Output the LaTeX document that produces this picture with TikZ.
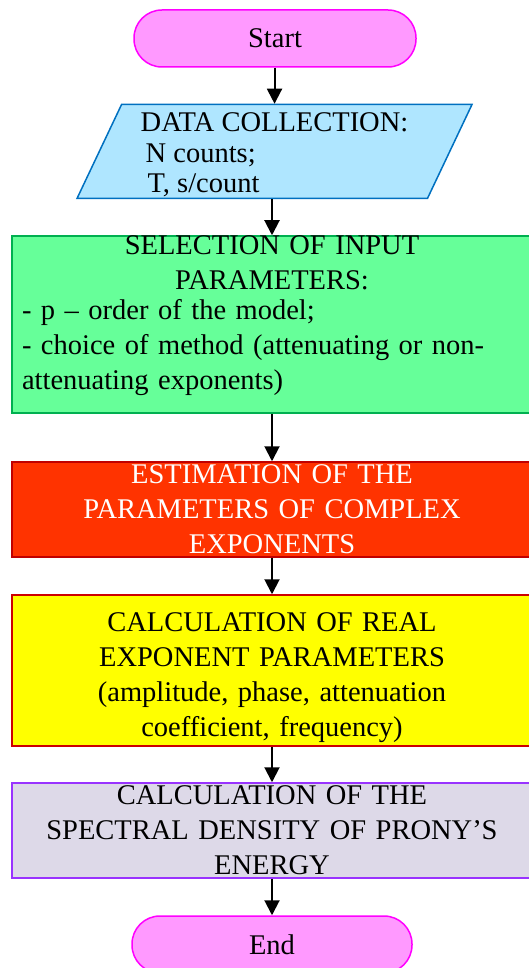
\documentclass[tikz,border=0pt]{standalone}
\usepackage{fontspec}
\setmainfont{Liberation Serif}
\usetikzlibrary{arrows.meta,shapes.geometric}
\definecolor{rosa}{RGB}{255,153,255}
\definecolor{rosaBorde}{RGB}{255,0,255}
\definecolor{celeste}{RGB}{175,230,255}
\definecolor{celesteBorde}{RGB}{0,112,192}
\definecolor{verde}{RGB}{102,255,153}
\definecolor{verdeBorde}{RGB}{0,176,80}
\definecolor{rojo}{RGB}{255,51,0}
\definecolor{rojoBorde}{RGB}{192,0,0}
\definecolor{amarillo}{RGB}{255,255,0}
\definecolor{lila}{RGB}{221,217,232}
\definecolor{lilaBorde}{RGB}{153,51,255}
\tikzset{
  caja/.style={rectangle,line width=1.5pt,minimum width=520pt,inner sep=0pt,text width=500pt,align=center},
  terminal/.style={rectangle,rounded corners=28pt,fill=rosa,draw=rosaBorde,line width=1.5pt,minimum width=282pt,minimum height=57pt},
  entrada/.style={trapezium,trapezium left angle=64,trapezium right angle=116,trapezium stretches body,fill=celeste,draw=celesteBorde,line width=1.5pt,minimum width=395pt,minimum height=94pt,inner sep=0pt,align=left},
  flecha/.style={line width=2pt,-{Triangle[width=15pt,length=15pt]}}
}

\begin{document}
\begin{tikzpicture}[x=1pt,y=-1pt,font=\fontsize{28.5}{35}\selectfont]
  \useasboundingbox (0,0) rectangle (528,968);
  % bloques del diagrama
  \node[terminal] (inicio) at (275,38.5) {Start};
  \node[entrada,font=\fontsize{28.5}{30.5}\selectfont] (datos) at (274.5,151.5)
    {\rule{0pt}{26pt}DATA COLLECTION:\\\hspace*{5pt}N counts;\\\hspace*{7pt}T, s/count};
  \node[caja,fill=verde,draw=verdeBorde,minimum height=177pt,align=left] (seleccion) at (272,324.5)
    {\makebox[500pt]{SELECTION OF INPUT}\\\makebox[500pt]{PARAMETERS:}\\[-5pt]
     - p – order of the model;\\- choice of method (attenuating or non-\\attenuating exponents)\rule[-23pt]{0pt}{23pt}};
  \node[caja,fill=rojo,draw=rojoBorde,minimum height=95pt,text=white] (estimacion) at (272,509.5)
    {ESTIMATION OF THE\\PARAMETERS OF COMPLEX\\EXPONENTS};
  \node[caja,fill=amarillo,draw=rojoBorde!80!red,minimum height=151pt] (calculo) at (272,670.5)
    {\rule{0pt}{34pt}CALCULATION OF REAL\\EXPONENT PARAMETERS\\(amplitude, phase, attenuation\\coefficient, frequency)};
  \node[caja,fill=lila,draw=lilaBorde,minimum height=95pt] (espectro) at (272,830.5)
    {CALCULATION OF THE\\SPECTRAL DENSITY OF PRONY’S\\ENERGY};
  \node[terminal,minimum width=280pt] (fin) at (272,944.5) {End};
  % flechas
  \foreach \a/\b in {inicio/datos,datos/seleccion,seleccion/estimacion,estimacion/calculo,calculo/espectro,espectro/fin}
    \draw[flecha] (\a.south -| \b.north) -- (\b.north);
\end{tikzpicture}
\end{document}
